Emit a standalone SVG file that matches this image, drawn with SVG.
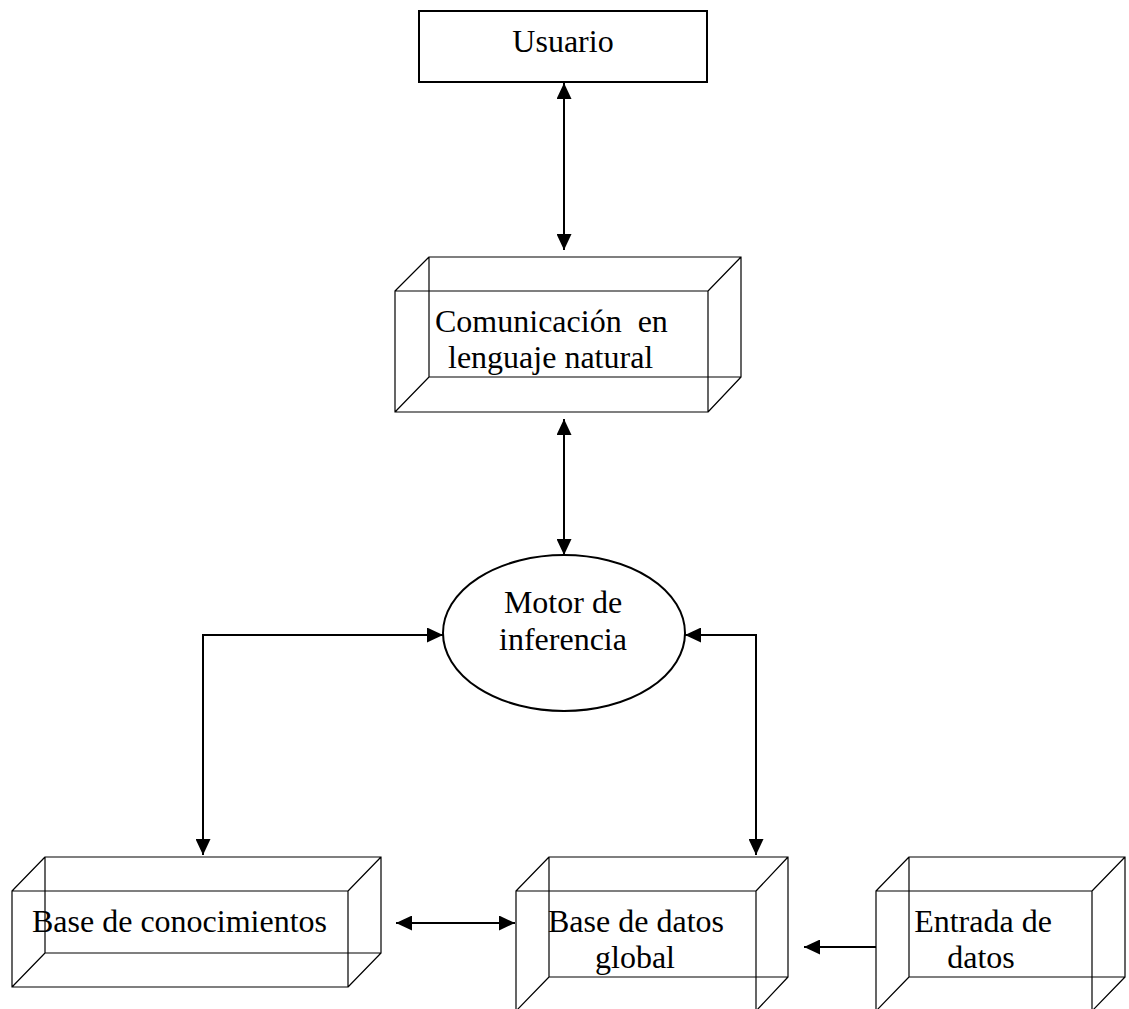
<svg xmlns="http://www.w3.org/2000/svg" width="1129" height="1009" viewBox="0 0 1129 1009">
<style>
.t{font-family:"Liberation Serif","Times New Roman",serif;font-size:32px;fill:#000;text-anchor:middle}
.s{text-anchor:start}
.box3d{fill:none;stroke:#000;stroke-width:1.2}
.conn{fill:none;stroke:#000;stroke-width:2}
</style>
<defs>
<marker id="ah" markerUnits="userSpaceOnUse" markerWidth="16" markerHeight="15" refX="16" refY="7.5" orient="auto-start-reverse">
<path d="M0,0 L16,7.5 L0,15 z" fill="#000"/>
</marker>
</defs>
<rect width="1129" height="1009" fill="#fff"/>
<g id="usuario">
<rect x="419" y="11" width="288" height="71" fill="none" stroke="#000" stroke-width="2"/>
<text class="t" x="563" y="52">Usuario</text>
</g>
<g id="comunicacion">
<path class="box3d" d="M395,291 H708 V412 H395 Z M429,257 H741 V377 H429 Z M395,291 L429,257 M708,291 L741,257 M708,412 L741,377 M395,412 L429,377"/>
<text class="t s" x="435" y="332" xml:space="preserve">Comunicación  en</text>
<text class="t s" x="448" y="368">lenguaje natural</text>
</g>
<g id="motor">
<ellipse cx="564" cy="633" rx="121" ry="78" fill="none" stroke="#000" stroke-width="2"/>
<text class="t" x="563" y="613">Motor de</text>
<text class="t" x="563" y="650">inferencia</text>
</g>
<g id="base-conocimientos">
<path class="box3d" d="M12,891 H348 V987 H12 Z M45,857 H381 V953 H45 Z M12,891 L45,857 M348,891 L381,857 M348,987 L381,953 M12,987 L45,953"/>
<text class="t s" x="32" y="932">Base de conocimientos</text>
</g>
<g id="base-datos">
<path class="box3d" d="M516,891 H756 V1011 H516 Z M549,857 H788 V977 H549 Z M516,891 L549,857 M756,891 L788,857 M756,1011 L788,977 M516,1011 L549,977"/>
<text class="t" x="636" y="932">Base de datos</text>
<text class="t" x="635" y="968">global</text>
</g>
<g id="entrada">
<path class="box3d" d="M876,891 H1092 V1011 H876 Z M909,857 H1125 V977 H909 Z M876,891 L909,857 M1092,891 L1125,857 M1092,1011 L1125,977 M876,1011 L909,977"/>
<text class="t" x="983" y="932">Entrada de</text>
<text class="t" x="981" y="968">datos</text>
</g>
<g id="connectors">
<line class="conn" x1="564" y1="83" x2="564" y2="250" marker-start="url(#ah)" marker-end="url(#ah)"/>
<line class="conn" x1="564" y1="419" x2="564" y2="555" marker-start="url(#ah)" marker-end="url(#ah)"/>
<polyline class="conn" points="443,635 203,635 203,855" marker-start="url(#ah)" marker-end="url(#ah)"/>
<polyline class="conn" points="685,635 756,635 756,855" marker-start="url(#ah)" marker-end="url(#ah)"/>
<line class="conn" x1="396" y1="923" x2="515" y2="923" marker-start="url(#ah)" marker-end="url(#ah)"/>
<line class="conn" x1="876" y1="947" x2="804" y2="947" marker-end="url(#ah)"/>
</g>
</svg>
